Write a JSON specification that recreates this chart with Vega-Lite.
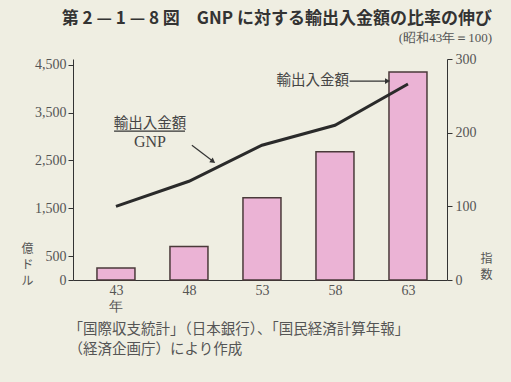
{
  "$schema": "https://vega.github.io/schema/vega-lite/v6.json",
  "width": 374,
  "height": 221,
  "autosize": {"type": "none"},
  "padding": {"left": 73, "top": 59, "right": 64, "bottom": 102},
  "background": "#efeee2",
  "config": {
    "view": {"stroke": null},
    "axis": {"grid": false, "domainColor": "#333", "tickColor": "#333", "labelColor": "#555", "labelFont": "Liberation Serif", "labelFontSize": 14, "titleColor": "#555", "titleFont": "Noto Sans CJK JP", "titleFontWeight": "normal", "titleFontSize": 12}
  },
  "title": {
    "text": "第 2 — 1 — 8 図　GNP に対する輸出入金額の比率の伸び",
    "subtitle": "(昭和43年＝100)",
    "anchor": "end",
    "frame": "group",
    "dx": 45,
    "offset": 6,
    "font": "Noto Sans CJK JP",
    "fontSize": 17,
    "fontWeight": "bold",
    "color": "#333",
    "subtitleFont": "Liberation Serif",
    "subtitleFontSize": 13,
    "subtitleColor": "#555",
    "subtitlePadding": 4
  },
  "layer": [
    {
      "data": {"values": [
        {"year": 43, "trade": 250},
        {"year": 48, "trade": 700},
        {"year": 53, "trade": 1720},
        {"year": 58, "trade": 2680},
        {"year": 63, "trade": 4350}
      ]},
      "mark": {"type": "bar", "size": 38, "fill": "#ebb3d5", "stroke": "#4a3a3a", "strokeWidth": 1.5},
      "encoding": {
        "x": {"field": "year", "type": "quantitative", "scale": {"domain": [40.4, 65.33], "nice": false, "zero": false},
          "axis": {"values": [43, 48, 53, 58, 63], "ticks": false, "labelPadding": 3, "labelLineHeight": 16,
            "labelExpr": "datum.value == 43 ? ['43', '年'] : datum.label",
            "title": ["「国際収支統計」（日本銀行）、「国民経済計算年報」", "（経済企画庁）により作成"],
            "titleX": -5, "titleY": 42, "titleAlign": "left", "titleAnchor": "start", "titleBaseline": "top", "titleLineHeight": 20, "titleFontSize": 14.5}},
        "y": {"field": "trade", "type": "quantitative", "scale": {"domain": [0, 4620], "nice": false},
          "axis": {"orient": "left", "values": [0, 500, 1500, 2500, 3500, 4500], "labelExpr": "format(datum.value, ',d')", "tickSize": 5, "labelPadding": 2,
            "title": ["億", "ド", "ル"], "titleAngle": 0, "titleX": -46, "titleY": 184, "titleBaseline": "top", "titleAlign": "center", "titleLineHeight": 16}}
      }
    },
    {
      "layer": [
        {
          "data": {"values": [
            {"year": 43, "idx": 100},
            {"year": 48, "idx": 134},
            {"year": 53, "idx": 183},
            {"year": 58, "idx": 210},
            {"year": 63, "idx": 266}
          ]},
          "mark": {"type": "line", "color": "#2a2a2a", "strokeWidth": 3},
          "encoding": {
            "x": {"field": "year", "type": "quantitative"},
            "y": {"field": "idx", "type": "quantitative", "scale": {"domain": [0, 300], "nice": false},
              "axis": {"orient": "right", "values": [0, 100, 200, 300], "tickSize": 5, "labelPadding": 3,
                "title": ["指", "数"], "titleAngle": 0, "titleX": 39, "titleY": 194, "titleBaseline": "top", "titleAlign": "center", "titleLineHeight": 16}}
          }
        },
        {
          "data": {"values": [
            {"year": 56.47, "idx": 270, "t": "輸出入金額"},
            {"year": 45.33, "idx": 212, "t": "輸出入金額"}
          ]},
          "mark": {"type": "text", "font": "Noto Sans CJK JP", "fontSize": 14.5, "color": "#444", "baseline": "middle", "align": "center"},
          "encoding": {
            "x": {"field": "year", "type": "quantitative"},
            "y": {"field": "idx", "type": "quantitative"},
            "text": {"field": "t"}
          }
        },
        {
          "data": {"values": [{"year": 45.33, "idx": 187, "t": "GNP"}]},
          "mark": {"type": "text", "font": "Liberation Serif", "fontSize": 16, "color": "#444", "baseline": "middle", "align": "center"},
          "encoding": {
            "x": {"field": "year", "type": "quantitative"},
            "y": {"field": "idx", "type": "quantitative"},
            "text": {"field": "t"}
          }
        },
        {
          "data": {"values": [
            {"year": 42.87, "year2": 47.73, "idx": 202, "idx2": 202},
            {"year": 59.0, "year2": 61.5, "idx": 270, "idx2": 270},
            {"year": 48.2, "year2": 49.6, "idx": 183, "idx2": 162}
          ]},
          "mark": {"type": "rule", "color": "#333", "strokeWidth": 1.2},
          "encoding": {
            "x": {"field": "year", "type": "quantitative"},
            "x2": {"field": "year2"},
            "y": {"field": "idx", "type": "quantitative"},
            "y2": {"field": "idx2"}
          }
        },
        {
          "data": {"values": [{"year": 61.6, "idx": 270}]},
          "mark": {"type": "point", "shape": "triangle-right", "filled": true, "size": 35, "color": "#333", "opacity": 1},
          "encoding": {
            "x": {"field": "year", "type": "quantitative"},
            "y": {"field": "idx", "type": "quantitative"}
          }
        },
        {
          "data": {"values": [{"year": 49.65, "idx": 161}]},
          "mark": {"type": "point", "shape": "triangle-right", "filled": true, "size": 35, "color": "#333", "opacity": 1, "angle": 36},
          "encoding": {
            "x": {"field": "year", "type": "quantitative"},
            "y": {"field": "idx", "type": "quantitative"}
          }
        }
      ]
    }
  ],
  "resolve": {"scale": {"y": "independent"}, "axis": {"y": "independent"}}
}
